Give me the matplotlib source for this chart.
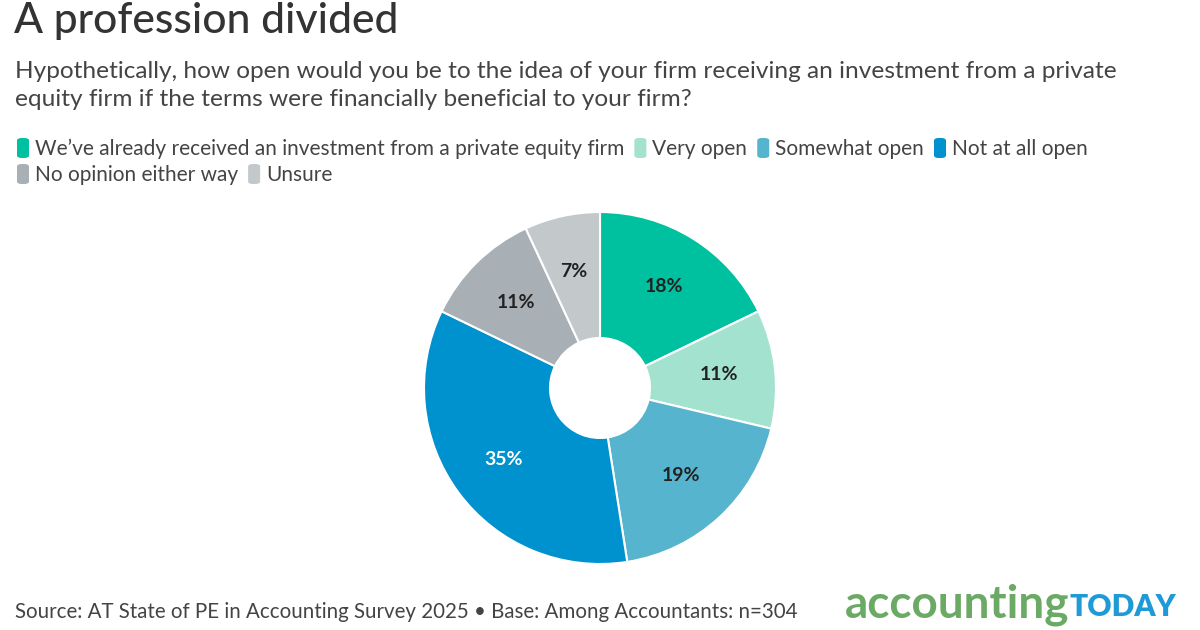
import matplotlib
matplotlib.use("Agg")
import matplotlib.pyplot as plt
from matplotlib.patches import FancyBboxPatch

categories = ["We\u2019ve already received an investment from a private equity firm",
              "Very open", "Somewhat open", "Not at all open",
              "No opinion either way", "Unsure"]
values = [18, 11, 19, 35, 11, 7]
colors = ["#00c19f", "#a3e2cf", "#57b4cf", "#0091cf", "#a8afb5", "#c3c8cb"]
label_colors = ["#222222", "#222222", "#222222", "#ffffff", "#222222", "#222222"]

title = "A profession divided"
subtitle = ["Hypothetically, how open would you be to the idea of your firm receiving an investment from a private",
            "equity firm if the terms were financially beneficial to your firm?"]
source = "Source: AT State of PE in Accounting Survey 2025 \u2022 Base: Among Accountants: n=304"

plt.rcParams['font.family'] = ['Lato', 'DejaVu Sans']

W, H = 1200, 630
fig = plt.figure(figsize=(12, 6.3), dpi=100)
fig.patch.set_facecolor("white")

def fx(px):
    return px / W

def fy(py):
    return 1 - py / H

# Title and subtitle
fig.text(fx(14), fy(21), title, fontsize=30.7, fontweight='medium', color="#333333", va='center', ha='left')
fig.text(fx(15), fy(72), subtitle[0], fontsize=17.6, color="#444444", va='center', ha='left')
fig.text(fx(15), fy(100), subtitle[1], fontsize=17.6, color="#444444", va='center', ha='left')

# Legend (custom, flowing)
fig.canvas.draw()
renderer = fig.canvas.get_renderer()
x = 17
rows_y = [148, 174]
row = 0
max_x = 1190
for cat, col in zip(categories, colors):
    t = fig.text(0, 0, cat, fontsize=15, color="#444444", va='center', ha='left')
    tw = t.get_window_extent(renderer).width
    if x + 19 + tw > max_x or cat == "No opinion either way":
        row += 1
        x = 17
    yc = rows_y[row]
    box = FancyBboxPatch((fx(x), fy(yc + 10)), fx(12), 20 / H,
                         boxstyle="round,pad=0,rounding_size=0.004",
                         transform=fig.transFigure, facecolor=col, edgecolor='none')
    fig.add_artist(box)
    t.set_position((fx(x + 18), fy(yc + 1)))
    x = x + 18 + tw + 10

# Pie
cx, cy, r = 600, 388, 176
ax = fig.add_axes([fx(cx - r), (H - cy - r) / H, 2 * r / W, 2 * r / H])
wedges, texts, autotexts = ax.pie(values, colors=colors, startangle=90, counterclock=False,
                                  autopct=lambda p: f"{p * sum(values) / 100:.0f}%",
                                  pctdistance=0.68,
                                  wedgeprops=dict(width=1 - 50 / r, edgecolor='white', linewidth=1.5),
                                  textprops=dict(fontsize=14, fontweight='bold'))
for at, lc in zip(autotexts, label_colors):
    at.set_color(lc)
ax.set_xlim(-1.0, 1.0)
ax.set_ylim(-1.0, 1.0)
ax.set_aspect('equal')
ax.axis('off')

# Source
fig.text(fx(15), fy(612), source, fontsize=14.8, color="#444444", va='center', ha='left')

# Logo
t1 = fig.text(fx(845), fy(605), "accounting", fontsize=33, fontweight='bold', color="#6aaa64",
              va='center', ha='left')
fig.canvas.draw()
w1 = t1.get_window_extent(renderer).width
fig.text(fx(845) + w1 / W, fy(607), "TODAY", fontsize=21.5, fontweight='heavy', color="#1e9ad6",
         va='center', ha='left')

fig.savefig("out.png", dpi=100, facecolor="white")
